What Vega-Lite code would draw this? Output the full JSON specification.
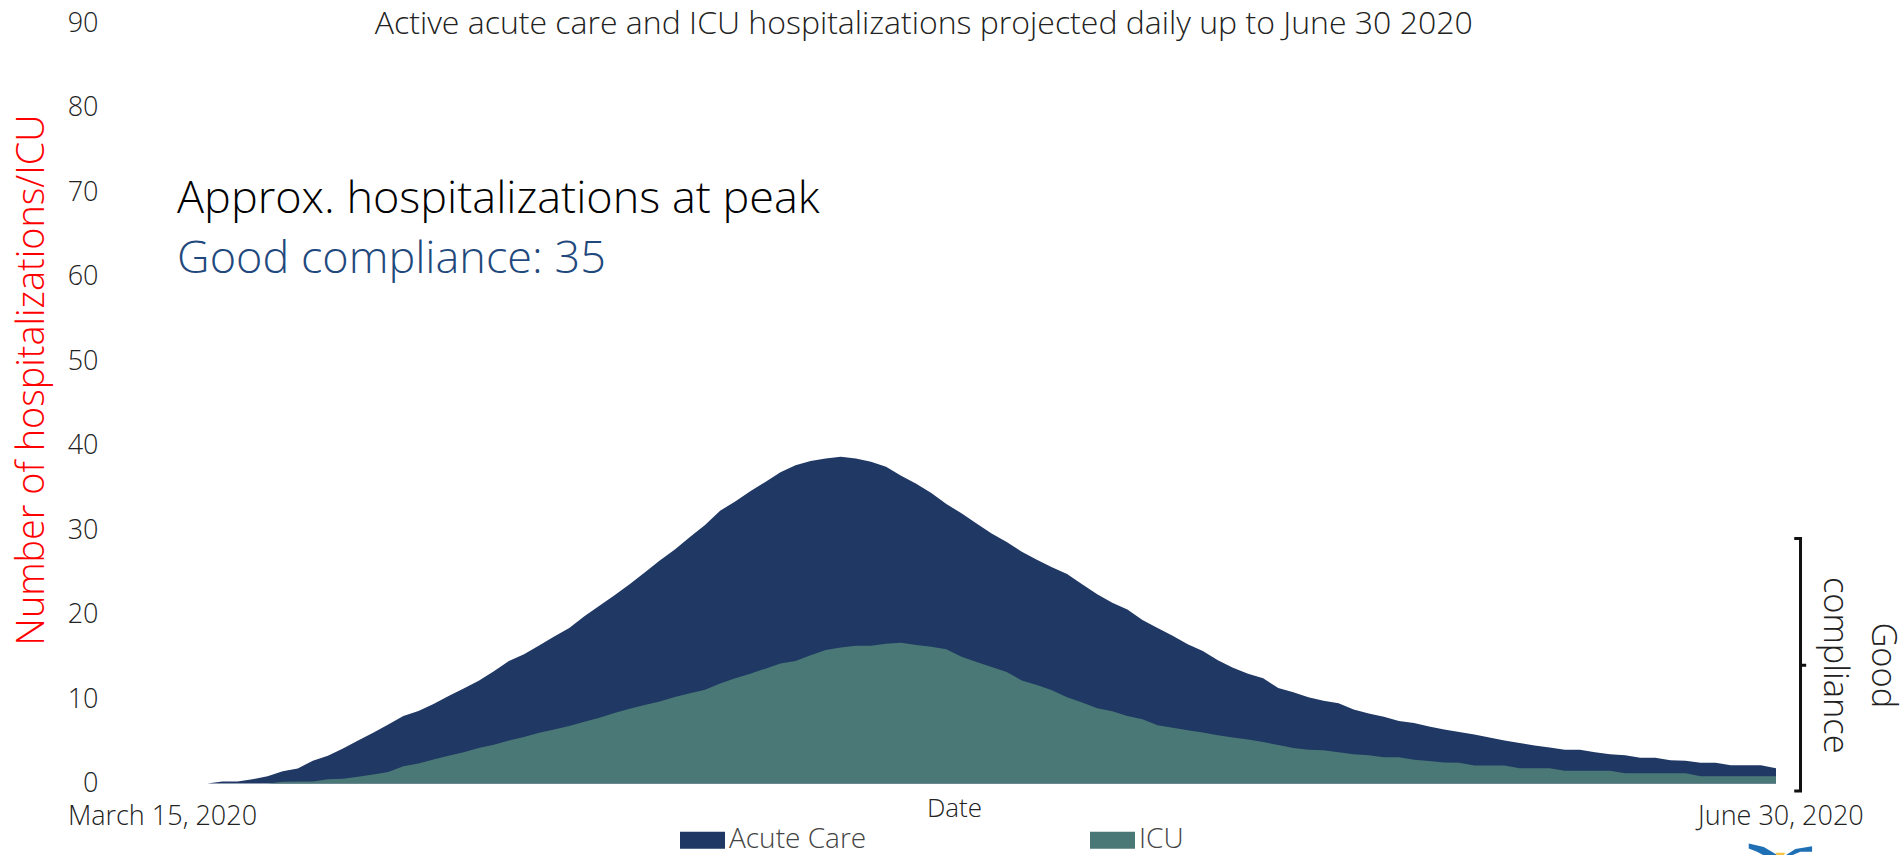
{"$schema":"https://vega.github.io/schema/vega-lite/v6.json","autosize":{"type":"none"},"width":1618.4,"height":760,"padding":{"left":162,"top":23.5,"right":119.6,"bottom":71.5},"background":"white","config":{"view":{"stroke":null},"font":"Open Sans"},"datasets":{"curves":[
{"date":"2020-03-18T00:00","Acute Care":0,"ICU":0},{"date":"2020-03-19T00:00","Acute Care":0.24,"ICU":0},{"date":"2020-03-20T00:00","Acute Care":0.24,"ICU":0},{"date":"2020-03-21T00:00","Acute Care":0.5,"ICU":0},{"date":"2020-03-22T00:00","Acute Care":0.87,"ICU":0},{"date":"2020-03-23T00:00","Acute Care":1.46,"ICU":0.2},{"date":"2020-03-24T00:00","Acute Care":1.78,"ICU":0.24},{"date":"2020-03-25T00:00","Acute Care":2.7,"ICU":0.24},{"date":"2020-03-26T00:00","Acute Care":3.3,"ICU":0.5},{"date":"2020-03-27T00:00","Acute Care":4.15,"ICU":0.55},{"date":"2020-03-28T00:00","Acute Care":5.1,"ICU":0.8},{"date":"2020-03-29T00:00","Acute Care":6,"ICU":1.07},{"date":"2020-03-30T00:00","Acute Care":7,"ICU":1.35},{"date":"2020-03-31T00:00","Acute Care":8,"ICU":2.05},
{"date":"2020-04-01T00:00","Acute Care":8.6,"ICU":2.37},{"date":"2020-04-02T00:00","Acute Care":9.4,"ICU":2.84},{"date":"2020-04-03T00:00","Acute Care":10.35,"ICU":3.3},{"date":"2020-04-04T00:00","Acute Care":11.25,"ICU":3.7},{"date":"2020-04-05T00:00","Acute Care":12.16,"ICU":4.2},{"date":"2020-04-06T00:00","Acute Care":13.3,"ICU":4.6},{"date":"2020-04-07T00:00","Acute Care":14.5,"ICU":5.1},{"date":"2020-04-08T00:00","Acute Care":15.3,"ICU":5.5},{"date":"2020-04-09T00:00","Acute Care":16.35,"ICU":6},{"date":"2020-04-10T00:00","Acute Care":17.4,"ICU":6.4},{"date":"2020-04-11T00:00","Acute Care":18.4,"ICU":6.8},{"date":"2020-04-12T00:00","Acute Care":19.8,"ICU":7.3},{"date":"2020-04-13T00:00","Acute Care":21.05,"ICU":7.8},{"date":"2020-04-14T00:00","Acute Care":22.3,"ICU":8.35},{"date":"2020-04-15T00:00","Acute Care":23.6,"ICU":8.85},{"date":"2020-04-16T00:00","Acute Care":25,"ICU":9.3},{"date":"2020-04-17T00:00","Acute Care":26.4,"ICU":9.7},{"date":"2020-04-18T00:00","Acute Care":27.7,"ICU":10.25},{"date":"2020-04-19T00:00","Acute Care":29.2,"ICU":10.7},{"date":"2020-04-20T00:00","Acute Care":30.6,"ICU":11.1},{"date":"2020-04-21T00:00","Acute Care":32.3,"ICU":11.85},{"date":"2020-04-22T00:00","Acute Care":33.4,"ICU":12.45},{"date":"2020-04-23T00:00","Acute Care":34.6,"ICU":13},{"date":"2020-04-24T00:00","Acute Care":35.7,"ICU":13.6},{"date":"2020-04-25T00:00","Acute Care":36.85,"ICU":14.2},{"date":"2020-04-26T00:00","Acute Care":37.7,"ICU":14.5},{"date":"2020-04-27T00:00","Acute Care":38.2,"ICU":15.2},{"date":"2020-04-28T00:00","Acute Care":38.5,"ICU":15.8},{"date":"2020-04-29T00:00","Acute Care":38.7,"ICU":16.1},{"date":"2020-04-30T00:00","Acute Care":38.5,"ICU":16.3},
{"date":"2020-05-01T00:00","Acute Care":38.1,"ICU":16.3},{"date":"2020-05-02T00:00","Acute Care":37.5,"ICU":16.55},{"date":"2020-05-03T00:00","Acute Care":36.45,"ICU":16.67},{"date":"2020-05-04T00:00","Acute Care":35.5,"ICU":16.4},{"date":"2020-05-05T00:00","Acute Care":34.4,"ICU":16.2},{"date":"2020-05-06T00:00","Acute Care":33.1,"ICU":15.9},{"date":"2020-05-07T00:00","Acute Care":32,"ICU":15},{"date":"2020-05-08T00:00","Acute Care":30.8,"ICU":14.4},{"date":"2020-05-09T00:00","Acute Care":29.6,"ICU":13.8},{"date":"2020-05-10T00:00","Acute Care":28.6,"ICU":13.2},{"date":"2020-05-11T00:00","Acute Care":27.45,"ICU":12.2},{"date":"2020-05-12T00:00","Acute Care":26.5,"ICU":11.65},{"date":"2020-05-13T00:00","Acute Care":25.6,"ICU":11.05},{"date":"2020-05-14T00:00","Acute Care":24.8,"ICU":10.2},{"date":"2020-05-15T00:00","Acute Care":23.6,"ICU":9.6},{"date":"2020-05-16T00:00","Acute Care":22.4,"ICU":8.9},{"date":"2020-05-17T00:00","Acute Care":21.4,"ICU":8.57},{"date":"2020-05-18T00:00","Acute Care":20.6,"ICU":8},{"date":"2020-05-19T00:00","Acute Care":19.35,"ICU":7.6},{"date":"2020-05-20T00:00","Acute Care":18.4,"ICU":6.9},{"date":"2020-05-21T00:00","Acute Care":17.5,"ICU":6.6},{"date":"2020-05-22T00:00","Acute Care":16.5,"ICU":6.3},{"date":"2020-05-23T00:00","Acute Care":15.7,"ICU":6.05},{"date":"2020-05-24T00:00","Acute Care":14.6,"ICU":5.7},{"date":"2020-05-25T00:00","Acute Care":13.7,"ICU":5.45},{"date":"2020-05-26T00:00","Acute Care":13,"ICU":5.2},{"date":"2020-05-27T00:00","Acute Care":12.45,"ICU":4.9},{"date":"2020-05-28T00:00","Acute Care":11.3,"ICU":4.55},{"date":"2020-05-29T00:00","Acute Care":10.8,"ICU":4.2},{"date":"2020-05-30T00:00","Acute Care":10.2,"ICU":4},{"date":"2020-05-31T00:00","Acute Care":9.8,"ICU":3.95},
{"date":"2020-06-01T00:00","Acute Care":9.5,"ICU":3.7},{"date":"2020-06-02T00:00","Acute Care":8.75,"ICU":3.45},{"date":"2020-06-03T00:00","Acute Care":8.3,"ICU":3.35},{"date":"2020-06-04T00:00","Acute Care":7.9,"ICU":3.1},{"date":"2020-06-05T00:00","Acute Care":7.4,"ICU":3.1},{"date":"2020-06-06T00:00","Acute Care":7.15,"ICU":2.8},{"date":"2020-06-07T00:00","Acute Care":6.75,"ICU":2.65},{"date":"2020-06-08T00:00","Acute Care":6.4,"ICU":2.5},{"date":"2020-06-09T00:00","Acute Care":6.1,"ICU":2.45},{"date":"2020-06-10T00:00","Acute Care":5.8,"ICU":2.13},{"date":"2020-06-11T00:00","Acute Care":5.45,"ICU":2.13},{"date":"2020-06-12T00:00","Acute Care":5.1,"ICU":2.13},{"date":"2020-06-13T00:00","Acute Care":4.8,"ICU":1.8},{"date":"2020-06-14T00:00","Acute Care":4.5,"ICU":1.8},{"date":"2020-06-15T00:00","Acute Care":4.25,"ICU":1.8},{"date":"2020-06-16T00:00","Acute Care":4,"ICU":1.5},{"date":"2020-06-17T00:00","Acute Care":4,"ICU":1.5},{"date":"2020-06-18T00:00","Acute Care":3.7,"ICU":1.5},{"date":"2020-06-19T00:00","Acute Care":3.45,"ICU":1.5},{"date":"2020-06-20T00:00","Acute Care":3.35,"ICU":1.2},{"date":"2020-06-21T00:00","Acute Care":3.05,"ICU":1.2},{"date":"2020-06-22T00:00","Acute Care":3.05,"ICU":1.2},{"date":"2020-06-23T00:00","Acute Care":2.75,"ICU":1.2},{"date":"2020-06-24T00:00","Acute Care":2.7,"ICU":1.2},{"date":"2020-06-25T00:00","Acute Care":2.45,"ICU":0.87},{"date":"2020-06-26T00:00","Acute Care":2.45,"ICU":0.87},{"date":"2020-06-27T00:00","Acute Care":2.15,"ICU":0.87},{"date":"2020-06-28T00:00","Acute Care":2.15,"ICU":0.87},{"date":"2020-06-29T00:00","Acute Care":2.15,"ICU":0.87},{"date":"2020-06-30T00:00","Acute Care":1.8,"ICU":0.87}
],"brace":[
{"step":1,"date":"2020-07-01T05:00","level":29},{"step":2,"date":"2020-07-01T15:00","level":29},{"step":3,"date":"2020-07-01T15:00","level":14},{"step":4,"date":"2020-07-02T00:00","level":14},{"step":5,"date":"2020-07-01T15:00","level":14},{"step":6,"date":"2020-07-01T15:00","level":-0.9},{"step":7,"date":"2020-07-01T05:00","level":-0.9}
],"logo":[{"date":"2020-06-30T07:00","level":-7.9}]},
"data":{"name":"curves"},
"layer":[
{"transform":[{"fold":["Acute Care","ICU"],"as":["series","value"]}],
"mark":{"type":"area","interpolate":"linear","line":false},
"encoding":{
"x":{"field":"date","type":"temporal","scale":{"domain":["2020-03-15T00:00","2020-06-30T07:00"],"nice":false},
"axis":{"values":["2020-03-15T00:00","2020-06-30T07:00"],"format":"%B %-d, %Y","grid":false,"domain":false,"ticks":false,"labelFont":"Open Sans","labelFontWeight":300,"labelFontSize":27,"labelColor":"#222222","labelPadding":20,"labelLimit":400,"labelOverlap":false,"labelBound":false,"labelFlush":false,"title":"Date","titleFont":"Open Sans","titleFontWeight":300,"titleFontSize":26,"titleColor":"#222222","titleX":792,"titleY":24.5,"titleBaseline":"middle","titleAnchor":"middle"}},
"y":{"field":"value","type":"quantitative","stack":null,"scale":{"domain":[0,90],"nice":false},
"axis":{"values":[0,10,20,30,40,50,60,70,80,90],"grid":false,"domain":false,"ticks":false,"labelFont":"Open Sans","labelFontWeight":300,"labelFontSize":27,"labelColor":"#222222","labelPadding":64,"labelBound":false,"labelOverlap":false,"title":"Number of hospitalizations/ICU","titleFont":"Open Sans","titleFontWeight":300,"titleFontSize":37.8,"titleColor":"#ff0000","titleX":-130,"titleY":356,"titleBaseline":"middle","titleAnchor":"middle","titleAngle":-90}},
"color":{"field":"series","type":"nominal","scale":{"domain":["Acute Care","ICU"],"range":["#203864","#4a7876"]},
"legend":{"title":null,"orient":"none","legendX":518,"legendY":794,"direction":"horizontal","columns":2,"columnPadding":223,"symbolType":"M-1,-0.38H1V0.38H-1Z","symbolSize":2025,"symbolStrokeWidth":0,"labelFont":"Open Sans","labelFontWeight":300,"labelFontSize":28,"labelColor":"#444444","labelOffset":4}}
}},
{"data":{"values":[{"date":"2020-05-04T12:00","level":90,"label":"Active acute care and ICU hospitalizations projected daily up to June 30 2020"}]},"mark":{"type":"text","font":"Open Sans","fontWeight":300,"fontSize":32,"color":"#222222","align":"center","baseline":"middle"},"encoding":{"x":{"field":"date","type":"temporal"},"y":{"field":"level","type":"quantitative"},"text":{"field":"label"}}},
{"data":{"values":[{"date":"2020-03-16T00:00","level":69.2,"label":"Approx. hospitalizations at peak"}]},"mark":{"type":"text","font":"Open Sans","fontWeight":300,"fontSize":45,"color":"#000000","align":"left","baseline":"middle"},"encoding":{"x":{"field":"date","type":"temporal"},"y":{"field":"level","type":"quantitative"},"text":{"field":"label"}}},
{"data":{"values":[{"date":"2020-03-16T00:00","level":62.1,"label":"Good compliance: 35"}]},"mark":{"type":"text","font":"Open Sans","fontWeight":300,"fontSize":45,"color":"#1f497d","align":"left","baseline":"middle"},"encoding":{"x":{"field":"date","type":"temporal"},"y":{"field":"level","type":"quantitative"},"text":{"field":"label"}}},
{"data":{"name":"brace"},"mark":{"type":"line","color":"#111111","strokeWidth":3,"interpolate":"linear"},"encoding":{"x":{"field":"date","type":"temporal"},"y":{"field":"level","type":"quantitative"},"order":{"field":"step","type":"quantitative"}}},
{"data":{"values":[{"date":"2020-07-03T20:00","level":14,"label":"compliance"},{"date":"2020-07-07T00:00","level":14,"label":"Good"}]},"mark":{"type":"text","font":"Open Sans","fontWeight":300,"fontSize":34.4,"color":"#222222","align":"center","baseline":"middle","angle":90},"encoding":{"x":{"field":"date","type":"temporal"},"y":{"field":"level","type":"quantitative"},"text":{"field":"label"}}},
{"data":{"name":"logo"},"mark":{"type":"point","filled":true,"size":4096,"opacity":1,"strokeWidth":0,"color":"#1f6fb5","shape":"M-.99,-.21L-.52,-.10L-.08,.16L-.52,.16L-.73,.05L-.99,-.05Z"},"encoding":{"x":{"field":"date","type":"temporal"},"y":{"field":"level","type":"quantitative"}}},
{"data":{"name":"logo"},"mark":{"type":"point","filled":true,"size":4096,"opacity":1,"strokeWidth":0,"color":"#1f6fb5","shape":"M.99,-.125L.99,.05L.625,.05L.36,.16L.16,.16L.47,-.04Z"},"encoding":{"x":{"field":"date","type":"temporal"},"y":{"field":"level","type":"quantitative"}}},
{"data":{"name":"logo"},"mark":{"type":"point","filled":true,"size":4096,"opacity":1,"strokeWidth":0,"color":"#f5c542","shape":"M-.16,.08L.16,.08L.1,.16L-.1,.16Z"},"encoding":{"x":{"field":"date","type":"temporal"},"y":{"field":"level","type":"quantitative"}}}
]}
